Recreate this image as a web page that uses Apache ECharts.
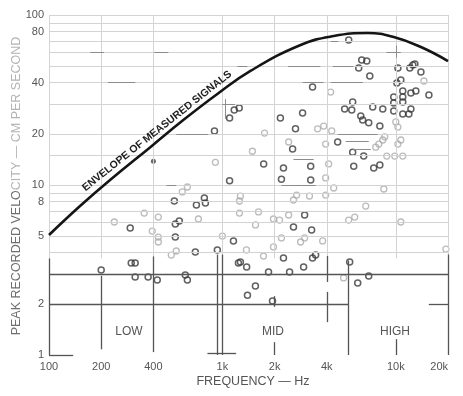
<!DOCTYPE html>
<html><head><meta charset="utf-8">
<script src="https://cdn.jsdelivr.net/npm/echarts@6/dist/echarts.min.js"></script>
<style>html,body{margin:0;padding:0;background:#fff}#c{width:463px;height:396px}</style>
</head><body><div id="c"></div>
<script>
// ---- axis ticks ----
const xTicks = [100, 200, 400, 1000, 2000, 4000, 10000, 20000];
const xTickLabels = ['100', '200', '400', '1k', '2k', '4k', '10k', '20k'];
const yTicks = [1, 2, 5, 8, 10, 20, 40, 80, 100];
const yTickLabels = ['1', '2', '5', '8', '10', '20', '40', '80', '100'];

// ---- grid (printed chart paper) ----
const gridYValues = [4, 5, 6, 7, 8, 9, 10, 15, 20, 30, 40, 50, 60, 70, 80, 90, 100];
const gridXValues = [100, 200, 400, 1000, 2000, 4000, 10000, 20000];
const bandTop = 3.7;
// horizontal band rules: [from frequency, to frequency, velocity]
const bandHRules = [[100, 20000, 3], [100, 5300, 2], [15500, 20000, 2], [100, 138, 1], [820, 1200, 1.02]];
// vertical band rules: [frequency, from velocity, to velocity]
const bandVRules = [[100, 1, 3.7], [200, 1.08, 2.92], [400, 1.04, 3.8], [940, 1, 3.9], [1000, 1, 3.9],
  [2000, 1.92, 2.22], [2000, 1, 1.19], [4000, 2.69, 3.82], [4000, 1.56, 2.35], [5300, 1, 3.6],
  [10000, 1, 1.24], [20000, 1, 3.9]];
const bandNames = ['LOW', 'MID', 'HIGH'];
// darker printed fragments of the paper grid: [from frequency, to frequency, velocity]
const fragH = [[173, 208, 60], [404, 488, 60], [219, 314, 40], [542, 829, 20], [475, 542, 10],
  [1220, 1394, 50], [2393, 3670, 50], [4334, 5700, 50], [2900, 3838, 40], [4210, 6456, 40],
  [4210, 4654, 70], [4620, 7860, 20], [5140, 6980, 18], [5640, 7180, 16.3], [2570, 3360, 14.1],
  [2190, 3450, 10], [8830, 10690, 60], [1000, 1180, 30]];
// [frequency, from velocity, to velocity]
const fragV = [[10000, 56, 66], [1040, 24.5, 32]];

// ---- envelope of measured signals ----
const envelopeFreq = [100, 151, 225, 384, 595, 935, 1452, 2825, 4385, 6890, 9730, 13960, 20000];
const envelopeVel = [5.08, 7.52, 10.7, 16.7, 24.1, 34.3, 46.9, 66.6, 75.2, 78.3, 74.2, 64.8, 53.6];

// ---- measured signals: [frequency Hz, peak velocity cm/s] ----
const filledPoints = [[400, 13.8]];
const darkPoints = [
  [900, 20.8], [1100, 24.8], [1170, 27.6], [1250, 28.4], [1100, 10.6], [1730, 13.3], [2160, 24.8],
  [2250, 12.6], [2190, 10.8], [2540, 16.3], [2640, 21.4], [2900, 26.5], [3310, 37.7], [3230, 12.9],
  [3230, 10.7], [4620, 17.9], [5350, 71.3], [6360, 54.4], [6800, 53.6], [6110, 48.8], [7080, 43.8],
  [5070, 28.0], [5570, 27.6], [5640, 30.8], [7360, 28.8], [8410, 28.0], [6280, 25.5], [6440, 24.1],
  [6980, 23.2], [8090, 22.2], [5640, 15.6], [6530, 14.8], [5720, 12.9], [7460, 12.6], [8090, 13.1],
  [10280, 48.8], [12050, 48.8], [12540, 50.8], [12880, 51.5], [13960, 46.2], [10690, 41.5], [10140, 39.8],
  [10970, 35.7], [12220, 34.8], [13050, 35.7], [15520, 33.8], [9730, 32.9], [10970, 32.9], [9730, 30.4],
  [10970, 30.8], [12220, 28.0], [11890, 26.2], [9730, 27.2], [10970, 26.2],
  [528, 8.05], [708, 7.63], [787, 8.39], [798, 7.84], [564, 6.14], [535, 5.90], [294, 5.58], [535, 4.94],
  [1158, 4.69], [698, 4.04], [935, 4.15], [1237, 3.48], [298, 3.48], [314, 3.48], [200, 3.16], [314, 2.88],
  [373, 2.88], [421, 2.76], [611, 2.96], [628, 2.76], [2980, 6.66], [2570, 5.66], [3270, 5.44], [2250, 3.72],
  [3310, 3.72], [3450, 3.87], [1270, 3.52], [1380, 3.29], [2940, 3.29], [1845, 3.08], [2440, 3.08],
  [1550, 2.55], [1395, 2.25], [1945, 2.08], [5420, 3.52], [6030, 2.65], [6980, 2.92]
];
const greyPoints = [
  [911, 13.6], [628, 9.73], [587, 9.1], [354, 6.84], [427, 6.48], [727, 6.31], [238, 6.06], [394, 5.36],
  [427, 4.94], [427, 4.62], [542, 4.09], [507, 3.87], [1000, 5.01], [1490, 15.8], [1750, 20.2], [2410, 17.9],
  [3540, 21.4], [3840, 22.2], [4270, 20.8], [3940, 17.4], [4210, 35.2], [4100, 13.3], [3940, 11.0],
  [4385, 9.6], [1270, 8.61], [1254, 8.05], [2680, 8.73], [2570, 8.16], [3180, 8.61], [3940, 8.73],
  [1254, 6.84], [1615, 6.94], [1970, 6.31], [2135, 6.22], [2410, 6.66], [1552, 5.82], [2190, 4.88],
  [2980, 4.88], [2825, 4.62], [3785, 4.69], [1376, 4.15], [1970, 4.32], [1726, 3.82], [14520, 40.9],
  [10000, 23.5], [10280, 21.9], [8635, 19.2], [8414, 18.4], [7980, 17.4], [10690, 18.4], [10280, 17.4],
  [7660, 16.7], [8870, 14.8], [9860, 14.8], [10970, 14.8], [8530, 9.47], [6710, 7.52], [5350, 6.22],
  [5795, 6.48], [10690, 6.06], [19450, 4.2], [5000, 2.84]
];

const xMin = xTicks[0], xMax = xTicks[xTicks.length - 1];
const yMin = yTicks[0], yMax = yTicks[yTicks.length - 1];
function seg(x1, y1, x2, y2) { return [{ coord: [x1, y1] }, { coord: [x2, y2] }]; }
function lookup(ticks, labels, v) {
  for (let i = 0; i < ticks.length; i++) if (Math.abs(ticks[i] - v) / ticks[i] < 1e-4) return labels[i];
  return '';
}

const lightLines = [];
gridYValues.forEach(v => lightLines.push(seg(xMin, v, xMax, v)));
gridXValues.forEach(f => lightLines.push(seg(f, bandTop, f, yMax)));
const fragLines = [];
fragH.forEach(d => fragLines.push(seg(d[0], d[2], d[1], d[2])));
fragV.forEach(d => fragLines.push(seg(d[0], d[1], d[0], d[2])));
const darkLines = [];
bandHRules.forEach(d => darkLines.push(seg(d[0], d[2], d[1], d[2])));
bandVRules.forEach(d => darkLines.push(seg(d[0], d[1], d[0], d[2])));

function ruleSeries(name, lines, color, width, z) {
  return {
    name: name, type: 'line', data: [[xMin, yMin]], showSymbol: false, silent: true, z: z,
    lineStyle: { opacity: 0 },
    markLine: { silent: true, symbol: ['none', 'none'], label: { show: false }, animation: false,
      lineStyle: { color: color, width: width, type: 'solid' }, emphasis: { disabled: true }, data: lines }
  };
}

const FONT = 'Liberation Sans';
const chart = echarts.init(document.getElementById('c'), null, { renderer: 'canvas' });
chart.setOption({
  backgroundColor: '#fff',
  animation: false,
  grid: { left: 49, right: 15, top: 15, bottom: 41 },
  xAxis: {
    type: 'log', logBase: 10, min: xMin, max: xMax,
    axisLine: { show: false }, axisTick: { show: false }, splitLine: { show: false },
    axisLabel: {
      customValues: xTicks, color: '#555', fontSize: 11, fontFamily: FONT, margin: 6,
      alignMaxLabel: 'right',
      formatter: v => lookup(xTicks, xTickLabels, v)
    }
  },
  yAxis: {
    type: 'log', logBase: 10, min: yMin, max: yMax,
    axisLine: { show: false }, axisTick: { show: false }, splitLine: { show: false },
    axisLabel: {
      customValues: yTicks, color: '#555', fontSize: 11, fontFamily: FONT, margin: 5,
      formatter: v => lookup(yTicks, yTickLabels, v)
    }
  },
  series: [
    ruleSeries('paper', lightLines, '#d3d3d3', 1, 1),
    ruleSeries('fragments', fragLines, '#8c8c8c', 1, 1),
    ruleSeries('bands', darkLines, '#555', 1.3, 2),
    {
      name: 'envelope', type: 'line', smooth: 0.45, showSymbol: false, z: 5,
      lineStyle: { color: '#151515', width: 2.6 },
      data: envelopeFreq.map((f, i) => [f, envelopeVel[i]])
    },
    {
      name: 'grey', type: 'scatter', symbol: 'circle', symbolSize: 6, z: 3,
      itemStyle: { color: 'rgba(0,0,0,0)', borderColor: '#ababab', borderWidth: 1.3 },
      data: greyPoints
    },
    {
      name: 'dark', type: 'scatter', symbol: 'circle', symbolSize: 6, z: 4,
      itemStyle: { color: 'rgba(0,0,0,0)', borderColor: '#3a3a3a', borderWidth: 1.5 },
      data: darkPoints
    },
    {
      name: 'filled', type: 'scatter', symbol: 'circle', symbolSize: 5, z: 4,
      itemStyle: { color: '#444' }, data: filledPoints
    }
  ],
  graphic: [
    { type: 'text', x: 157, y: 131, rotation: 0.67, z: 10,
      style: { text: 'ENVELOPE OF MEASURED SIGNALS', font: 'bold 10.5px "Liberation Sans"', fill: '#1e1e1e',
        align: 'center', verticalAlign: 'middle' } },
    { type: 'text', x: 17, y: 186, rotation: Math.PI / 2, z: 10,
      style: { text: '{a|PEAK RECORDED VELO}{b|CITY — CM PER SECOND}', align: 'center', verticalAlign: 'middle',
        rich: { a: { fill: '#6f6f6f', font: '12.5px "Liberation Sans"' }, b: { fill: '#b4b4b4', font: '12.5px "Liberation Sans"' } } } },
    { type: 'text', x: 253, y: 382, z: 10,
      style: { text: 'FREQUENCY — Hz', font: '12.5px "Liberation Sans"', fill: '#555', align: 'center', verticalAlign: 'middle' } },
    { type: 'text', x: 129, y: 332, z: 10,
      style: { text: bandNames[0], font: '12px "Liberation Sans"', fill: '#555', align: 'center', verticalAlign: 'middle' } },
    { type: 'text', x: 273, y: 332, z: 10,
      style: { text: bandNames[1], font: '12px "Liberation Sans"', fill: '#555', align: 'center', verticalAlign: 'middle' } },
    { type: 'text', x: 395, y: 332, z: 10,
      style: { text: bandNames[2], font: '12px "Liberation Sans"', fill: '#555', align: 'center', verticalAlign: 'middle' } }
  ]
});
</script></body></html>
